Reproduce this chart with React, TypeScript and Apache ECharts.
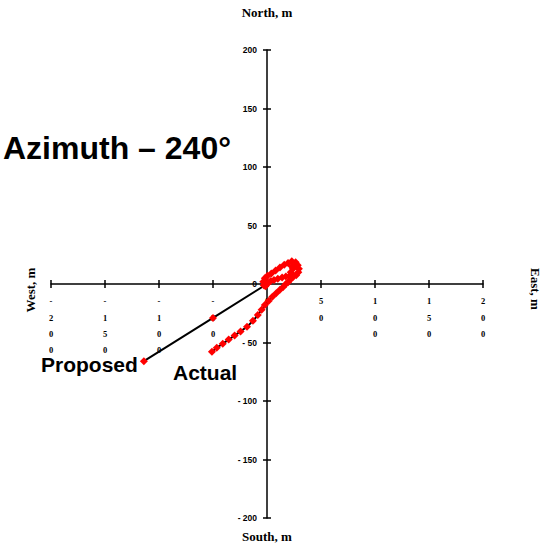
import React, { useEffect, useRef } from "react";
import * as echarts from "echarts";

// Axis scale (metres)
const AXIS_MIN = -200;
const AXIS_MAX = 200;
const AXIS_STEP = 50;

// Proposed well path (East, North) in metres
const proposedEast = [0, -50, -114];
const proposedNorth = [0, -29, -66];

// Actual well path: near-surface loop (East, North)
const loopEast = [0, -1.5, -3, -3.5, -2, 0.5, 4, 8, 12, 16, 19.5, 23, 26.5, 28.5, 29.5, 29, 27, 24, 22, 24, 26, 23, 21, 17.5, 14, 10, 6.5, 3.5, 1];
const loopNorth = [0, -2, -1, 2, 5, 7, 9, 11.5, 14, 16.5, 18, 19.5, 18.5, 16, 13, 10, 7.5, 6, 10, 13, 15.5, 15, 7, 6.5, 5.5, 4.5, 3.5, 2.5, 1];

// Actual well path: main track heading south-west (East, North)
const trackEast = [24, 22, 19.5, 17.5, 15, 12, 8.5, 5, 1.5, -2, -5, -8.5, -13, -18.5, -24.5, -30, -35.5, -41, -46.5, -51];
const trackNorth = [8, 4, 1.5, 0, -2.5, -5, -8, -11, -14.5, -18, -22, -26.5, -31.5, -36.5, -40.5, -44, -47.5, -51, -54.5, -58];

// Text
const TITLE = "Azimuth \u2013 240\u00b0";
const LABEL_PROPOSED = "Proposed";
const LABEL_ACTUAL = "Actual";
const NAME_N = "North, m";
const NAME_S = "South, m";
const NAME_W = "West, m";
const NAME_E = "East, m";

const pairs = (xs: number[], ys: number[]) => xs.map((x, i) => [x, ys[i]]);

export default function App() {
  const ref = useRef<HTMLDivElement>(null);

  useEffect(() => {
    if (!ref.current) return;
    const chart = echarts.init(ref.current, undefined, { renderer: "svg" });

    const axisLineStyle = { color: "#000", width: 1.5 };
    const scale = {
      type: "value" as const,
      min: AXIS_MIN,
      max: AXIS_MAX,
      interval: AXIS_STEP,
      splitLine: { show: false },
    };
    const hidden = (gridIndex: number, min = AXIS_MIN, max = AXIS_MAX) => ({
      type: "value" as const,
      gridIndex,
      min,
      max,
      show: false,
      splitLine: { show: false },
    });

    const lineSeries = (name: string, data: number[][], symbolSize: number, z: number) => ({
      type: "line",
      name,
      data,
      xAxisIndex: 0,
      yAxisIndex: 0,
      symbol: "diamond",
      symbolSize,
      showSymbol: true,
      showAllSymbol: true,
      itemStyle: { color: "#ff0000", borderWidth: 0 },
      lineStyle: { color: "#000", width: 2 },
      emphasis: { disabled: true },
      z,
    });

    const serifBold = '"Liberation Serif", "Times New Roman", serif';
    const sansBold = '"Liberation Sans", Arial, sans-serif';

    chart.setOption({
      animation: false,
      backgroundColor: "#ffffff",
      grid: [
        { left: 51, right: 72, top: 50, bottom: 29, containLabel: false, outerBoundsMode: "none" },
        { left: 51, right: 72, top: 283, height: 1, containLabel: false, outerBoundsMode: "none" },
        { left: 267, width: 1, top: 50, bottom: 29, containLabel: false, outerBoundsMode: "none" },
      ],
      xAxis: [
        hidden(0),
        {
          ...scale,
          gridIndex: 1,
          position: "bottom",
          axisLine: { show: true, onZero: false, lineStyle: axisLineStyle },
          axisTick: { show: true, inside: false, length: 4, lineStyle: axisLineStyle },
          axisLabel: {
            show: true,
            formatter: (v: number) => String(v).split("").join("\n"),
            fontFamily: serifBold,
            fontWeight: "bold",
            fontSize: 8.5,
            lineHeight: 16.4,
            color: "#000",
            margin: 9,
            showMinLabel: true,
            showMaxLabel: true,
            hideOverlap: false,
          },
        },
        {
          ...scale,
          gridIndex: 1,
          position: "bottom",
          axisLine: { show: false, onZero: false },
          axisTick: { show: true, inside: true, length: 4, lineStyle: axisLineStyle },
          axisLabel: { show: false },
        },
        hidden(2, 0, 1),
      ],
      yAxis: [
        hidden(0),
        hidden(1, 0, 1),
        {
          ...scale,
          gridIndex: 2,
          position: "left",
          axisLine: { show: true, onZero: false, lineStyle: axisLineStyle },
          axisTick: { show: true, inside: false, length: 4, lineStyle: axisLineStyle },
          axisLabel: {
            show: true,
            formatter: (v: number) => (v < 0 ? "- " + String(-v) : String(v)),
            fontFamily: sansBold,
            fontWeight: "bold",
            fontSize: 8.5,
            color: "#000",
            margin: 10,
            showMinLabel: true,
            showMaxLabel: true,
            hideOverlap: false,
          },
        },
        {
          ...scale,
          gridIndex: 2,
          position: "left",
          axisLine: { show: false, onZero: false },
          axisTick: { show: true, inside: true, length: 4, lineStyle: axisLineStyle },
          axisLabel: { show: false },
        },
      ],
      series: [
        lineSeries("Proposed", pairs(proposedEast, proposedNorth), 8, 2),
        lineSeries("Actual (near surface)", pairs(loopEast, loopNorth), 8, 3),
        lineSeries("Actual", pairs(trackEast, trackNorth), 8, 3),
      ],
      graphic: [
        {
          type: "text",
          x: 3,
          y: 148,
          style: { text: TITLE, fill: "#000", fontFamily: sansBold, fontWeight: "bold", fontSize: 32, align: "left", verticalAlign: "middle" },
        },
        {
          type: "text",
          x: 41,
          y: 364,
          style: { text: LABEL_PROPOSED, fill: "#000", fontFamily: sansBold, fontWeight: "bold", fontSize: 21, align: "left", verticalAlign: "middle" },
        },
        {
          type: "text",
          x: 173,
          y: 372,
          style: { text: LABEL_ACTUAL, fill: "#000", fontFamily: sansBold, fontWeight: "bold", fontSize: 21, align: "left", verticalAlign: "middle" },
        },
        {
          type: "text",
          x: 267,
          y: 12,
          style: { text: NAME_N, fill: "#000", fontFamily: serifBold, fontWeight: "bold", fontSize: 13, align: "center", verticalAlign: "middle" },
        },
        {
          type: "text",
          x: 267,
          y: 536,
          style: { text: NAME_S, fill: "#000", fontFamily: serifBold, fontWeight: "bold", fontSize: 13, align: "center", verticalAlign: "middle" },
        },
        {
          type: "text",
          x: 30,
          y: 290,
          rotation: Math.PI / 2,
          style: { text: NAME_W, fill: "#000", fontFamily: serifBold, fontWeight: "bold", fontSize: 13, align: "center", verticalAlign: "middle" },
        },
        {
          type: "text",
          x: 535,
          y: 289,
          rotation: -Math.PI / 2,
          style: { text: NAME_E, fill: "#000", fontFamily: serifBold, fontWeight: "bold", fontSize: 13, align: "center", verticalAlign: "middle" },
        },
      ],
    });

    return () => chart.dispose();
  }, []);

  return (
    <div
      ref={ref}
      style={{ position: "fixed", left: 0, top: 0, width: 555, height: 547, background: "#fff" }}
    />
  );
}
